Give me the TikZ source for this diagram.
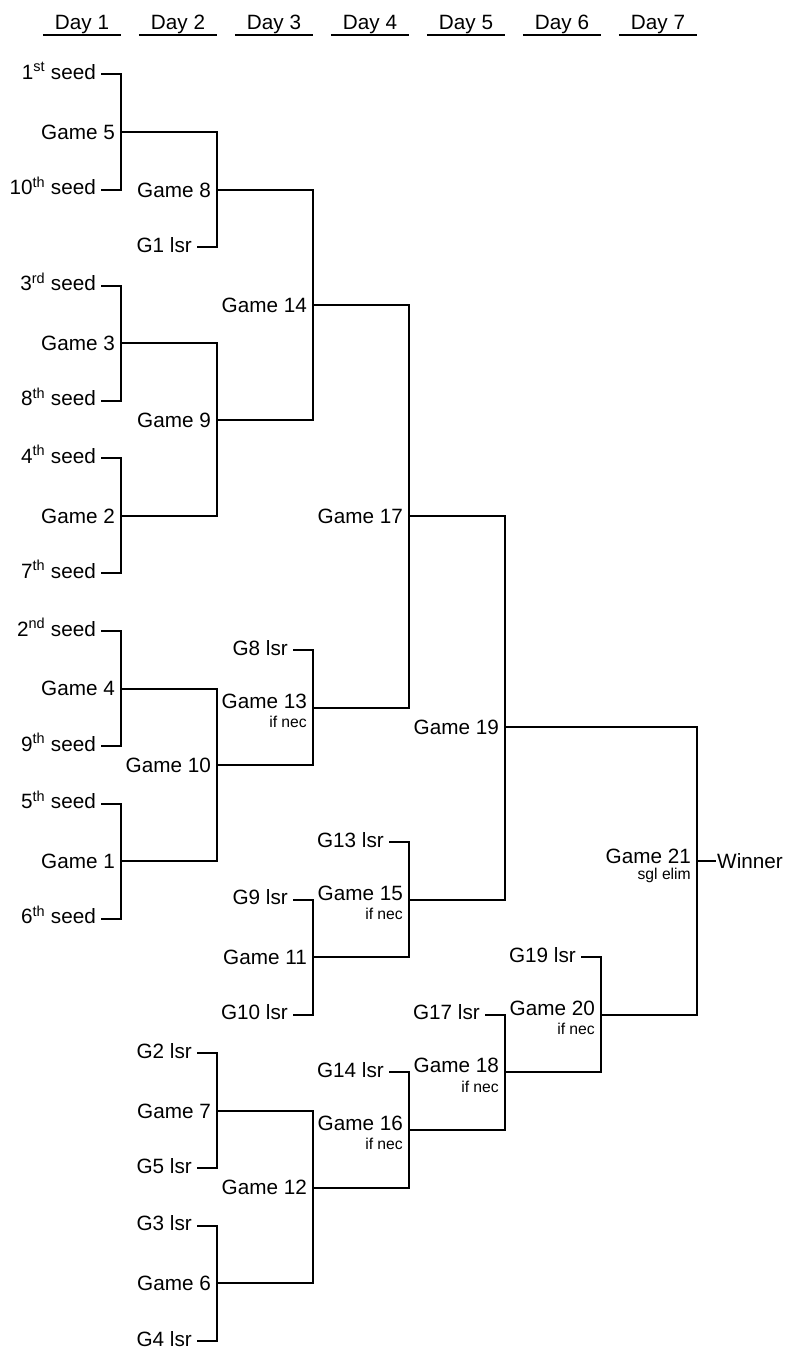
\documentclass[tikz,border=0pt]{standalone}
\usepackage{fontspec}
\setmainfont{Liberation Sans}
\newcommand\bracketfont{\fontsize{20.7}{24}\selectfont}
\newcommand\notefont{\fontsize{15.7}{18}\selectfont}

\begin{document}
\begin{tikzpicture}[x=96pt,y=-19.19pt,
      bracket/.style={line width=2pt},
      rule/.style={line width=2pt},
      day/.style={anchor=base,minimum width=78pt,inner sep=0pt,
                  text depth=4.7pt,font=\bracketfont},
      entry/.style={anchor=east,inner xsep=5pt,inner ysep=0pt,
                    text height=10pt,text depth=0pt,font=\bracketfont},
      game/.style={anchor=east,inner xsep=6pt,inner ysep=0pt,
                   text height=14.8pt,text depth=0pt,font=\bracketfont},
      raised/.style={yshift=7pt},
      note/.style={anchor=base east,inner xsep=6pt,yshift=-20pt,font=\notefont},
      winner/.style={anchor=west,inner xsep=1pt,inner ysep=0pt,
                     text height=14.8pt,text depth=0pt,font=\bracketfont}]
    \useasboundingbox (-0.2604,-3.882) rectangle (7.948,66.467);
    % day headers
    \node[day] (d1) at (0.594,-2.32) {Day 1};
    \node[day] (d2) at (1.594,-2.32) {Day 2};
    \node[day] (d3) at (2.594,-2.32) {Day 3};
    \node[day] (d4) at (3.594,-2.32) {Day 4};
    \node[day] (d5) at (4.594,-2.32) {Day 5};
    \node[day] (d6) at (5.594,-2.32) {Day 6};
    \node[day] (d7) at (6.594,-2.32) {Day 7};
    \draw[rule] (d1.south west) -- (d1.south east);
    \draw[rule] (d2.south west) -- (d2.south east);
    \draw[rule] (d3.south west) -- (d3.south east);
    \draw[rule] (d4.south west) -- (d4.south east);
    \draw[rule] (d5.south west) -- (d5.south east);
    \draw[rule] (d6.south west) -- (d6.south east);
    \draw[rule] (d7.south west) -- (d7.south east);
    % seeds and losers
    \node[entry] (s1)  at (0.792,0)  {1\textsuperscript{st} seed};
    \node[entry] (s10) at (0.792,6)  {10\textsuperscript{th} seed};
    \node[entry] (s3)  at (0.792,11) {3\textsuperscript{rd} seed};
    \node[entry] (s8)  at (0.792,17) {8\textsuperscript{th} seed};
    \node[entry] (s4)  at (0.792,20) {4\textsuperscript{th} seed};
    \node[entry] (s7)  at (0.792,26) {7\textsuperscript{th} seed};
    \node[entry] (s2)  at (0.792,29) {2\textsuperscript{nd} seed};
    \node[entry] (s9)  at (0.792,35) {9\textsuperscript{th} seed};
    \node[entry] (s5)  at (0.792,38) {5\textsuperscript{th} seed};
    \node[entry] (s6)  at (0.792,44) {6\textsuperscript{th} seed};
    \node[entry] (l1)  at (1.792,9)  {G1 lsr};
    \node[entry] (l2)  at (1.792,51) {G2 lsr};
    \node[entry] (l5)  at (1.792,57) {G5 lsr};
    \node[entry] (l3)  at (1.792,60) {G3 lsr};
    \node[entry] (l4)  at (1.792,66) {G4 lsr};
    \node[entry] (l8)  at (2.792,30) {G8 lsr};
    \node[entry] (l9)  at (2.792,43) {G9 lsr};
    \node[entry] (l10) at (2.792,49) {G10 lsr};
    \node[entry] (l13) at (3.792,40) {G13 lsr};
    \node[entry] (l14) at (3.792,52) {G14 lsr};
    \node[entry] (l17) at (4.792,49) {G17 lsr};
    \node[entry] (l19) at (5.792,46) {G19 lsr};
    % games
    \coordinate (g5)  at (1,3);   \node[game] (g5-t)  at (g5)  {Game 5};
    \coordinate (g3)  at (1,14);  \node[game] (g3-t)  at (g3)  {Game 3};
    \coordinate (g2)  at (1,23);  \node[game] (g2-t)  at (g2)  {Game 2};
    \coordinate (g4)  at (1,32);  \node[game] (g4-t)  at (g4)  {Game 4};
    \coordinate (g1)  at (1,41);  \node[game] (g1-t)  at (g1)  {Game 1};
    \coordinate (g8)  at (2,6);   \node[game] (g8-t)  at (g8)  {Game 8};
    \coordinate (g9)  at (2,18);  \node[game] (g9-t)  at (g9)  {Game 9};
    \coordinate (g10) at (2,36);  \node[game] (g10-t) at (g10) {Game 10};
    \coordinate (g7)  at (2,54);  \node[game] (g7-t)  at (g7)  {Game 7};
    \coordinate (g6)  at (2,63);  \node[game] (g6-t)  at (g6)  {Game 6};
    \coordinate (g14) at (3,12);  \node[game] (g14-t) at (g14) {Game 14};
    \coordinate (g13) at (3,33);  \node[game,raised] (g13-t) at (g13) {Game 13};
    \node[note] (g13-n) at (g13) {if nec};
    \coordinate (g11) at (3,46);  \node[game] (g11-t) at (g11) {Game 11};
    \coordinate (g12) at (3,58);  \node[game] (g12-t) at (g12) {Game 12};
    \coordinate (g17) at (4,23);  \node[game] (g17-t) at (g17) {Game 17};
    \coordinate (g15) at (4,43);  \node[game,raised] (g15-t) at (g15) {Game 15};
    \node[note] (g15-n) at (g15) {if nec};
    \coordinate (g16) at (4,55);  \node[game,raised] (g16-t) at (g16) {Game 16};
    \node[note] (g16-n) at (g16) {if nec};
    \coordinate (g19) at (5,34);  \node[game] (g19-t) at (g19) {Game 19};
    \coordinate (g18) at (5,52);  \node[game,raised] (g18-t) at (g18) {Game 18};
    \node[note] (g18-n) at (g18) {if nec};
    \coordinate (g20) at (6,49);  \node[game,raised] (g20-t) at (g20) {Game 20};
    \node[note] (g20-n) at (g20) {if nec};
    \coordinate (g21) at (7,41);  \node[game,yshift=5pt] (g21-t) at (g21) {Game 21};
    \node[note,yshift=2pt] (g21-n) at (g21) {sgl elim};
    \node[winner] (win) at (7.198,41) {Winner};
    % brackets
    \draw[bracket] (s1.east) -| (g5) |- (s10.east);
    \draw[bracket] (s3.east) -| (g3) |- (s8.east);
    \draw[bracket] (s4.east) -| (g2) |- (s7.east);
    \draw[bracket] (s2.east) -| (g4) |- (s9.east);
    \draw[bracket] (s5.east) -| (g1) |- (s6.east);
    \draw[bracket] (g5) -| (g8) |- (l1.east);
    \draw[bracket] (g3) -| (g9) |- (g2);
    \draw[bracket] (g4) -| (g10) |- (g1);
    \draw[bracket] (l2.east) -| (g7) |- (l5.east);
    \draw[bracket] (l3.east) -| (g6) |- (l4.east);
    \draw[bracket] (g8) -| (g14) |- (g9);
    \draw[bracket] (l8.east) -| (g13) |- (g10);
    \draw[bracket] (l9.east) -| (g11) |- (l10.east);
    \draw[bracket] (g7) -| (g12) |- (g6);
    \draw[bracket] (g14) -| (g17) |- (g13);
    \draw[bracket] (l13.east) -| (g15) |- (g11);
    \draw[bracket] (l14.east) -| (g16) |- (g12);
    \draw[bracket] (g17) -| (g19) |- (g15);
    \draw[bracket] (l17.east) -| (g18) |- (g16);
    \draw[bracket] (l19.east) -| (g20) |- (g18);
    \draw[bracket] (g19) -| (g21) |- (g20);
    \draw[bracket] (g21) -- (win.west);
  \end{tikzpicture}
\end{document}
